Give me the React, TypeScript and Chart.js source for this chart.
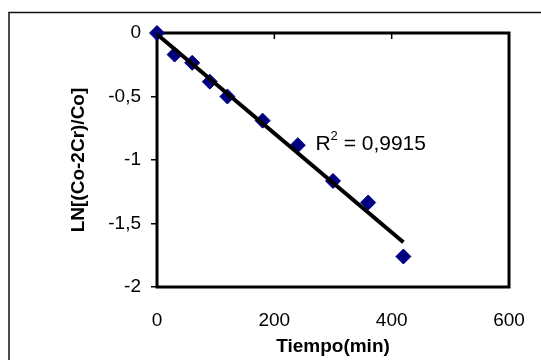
import React, { useEffect, useRef } from 'react';
import { Chart, registerables } from 'chart.js';

Chart.register(...registerables);

// ---- data ----
const tiempo = [0, 30, 60, 90, 120, 180, 240, 300, 360, 420];
const lnValues = [0, -0.17, -0.235, -0.383, -0.5, -0.69, -0.883, -1.165, -1.335, -1.76];
const trendX = [0, 420];
const trendY = [-0.01, -1.648];
const xTicks = [0, 200, 400, 600];
const xTickLabels = ['0', '200', '400', '600'];
const yTicks = [-2, -1.5, -1, -0.5, 0];
const yTickLabels = ['-2', '-1,5', '-1', '-0,5', '0'];
const xTitle = 'Tiempo(min)';
const yTitle = 'LN[(Co-2Cr)/Co]';
const r2Main = 'R';
const r2Sup = '2';
const r2Rest = ' = 0,9915';
const r2At = [270, -0.92];

const FONT = 'Arial, "Liberation Sans", sans-serif';

const framePlugin = {
  id: 'framePlugin',
  beforeDraw(chart: any) {
    const { ctx, width, height } = chart;
    ctx.save();
    ctx.fillStyle = '#ffffff';
    ctx.fillRect(0, 0, width, height);
    ctx.strokeStyle = '#111';
    ctx.lineWidth = 1.5;
    ctx.beginPath();
    ctx.moveTo(9, height);
    ctx.lineTo(9, 12.5);
    ctx.lineTo(width, 12.5);
    ctx.stroke();
    ctx.restore();
  },
  beforeDatasetsDraw(chart: any) {
    const { ctx, chartArea, scales } = chart;
    const { left, top, right, bottom } = chartArea;
    ctx.save();
    ctx.strokeStyle = '#000';
    ctx.lineWidth = 1.5;
    ctx.beginPath();
    xTicks.forEach((v) => {
      const px = scales.x.getPixelForValue(v);
      ctx.moveTo(px, top);
      ctx.lineTo(px, top + 6);
    });
    ctx.stroke();
    ctx.lineWidth = 3;
    ctx.strokeRect(left, top, right - left, bottom - top);
    ctx.restore();
  },
  afterDatasetsDraw(chart: any) {
    const { ctx, scales } = chart;
    const x = scales.x.getPixelForValue(r2At[0]);
    const y = scales.y.getPixelForValue(r2At[1]);
    ctx.save();
    ctx.fillStyle = '#000';
    ctx.textBaseline = 'alphabetic';
    ctx.textAlign = 'left';
    ctx.font = `21px ${FONT}`;
    ctx.fillText(r2Main, x, y);
    let cx = x + ctx.measureText(r2Main).width;
    ctx.font = `13px ${FONT}`;
    ctx.fillText(r2Sup, cx, y - 10);
    cx += ctx.measureText(r2Sup).width;
    ctx.font = `21px ${FONT}`;
    ctx.fillText(r2Rest, cx, y);
    ctx.restore();
  },
};

export default function App() {
  const ref = useRef<HTMLCanvasElement | null>(null);

  useEffect(() => {
    if (!ref.current) return;
    const chart = new Chart(ref.current, {
      type: 'scatter',
      data: {
        datasets: [
          {
            label: 'Tendencia',
            data: trendX.map((x, i) => ({ x, y: trendY[i] })),
            showLine: true,
            borderColor: '#000000',
            borderWidth: 4,
            pointRadius: 0,
            order: 0,
            clip: false,
          } as any,
          {
            label: 'Datos',
            data: tiempo.map((x, i) => ({ x, y: lnValues[i] })),
            pointStyle: 'rectRot',
            pointRadius: 7.5,
            pointBackgroundColor: '#000080',
            pointBorderColor: '#000080',
            pointBorderWidth: 1,
            showLine: false,
            order: 1,
            clip: false,
          } as any,
        ],
      },
      options: {
        animation: false,
        responsive: false,
        events: [],
        layout: { padding: { top: 33, right: 32, left: 0, bottom: 0 } },
        plugins: {
          legend: { display: false },
          tooltip: { enabled: false },
        },
        scales: {
          x: {
            type: 'linear',
            min: 0,
            max: 600,
            afterBuildTicks: (scale: any) => {
              scale.ticks = xTicks.map((v) => ({ value: v }));
            },
            afterFit: (scale: any) => {
              scale.height = 73;
              scale.paddingLeft = 0;
              scale.paddingRight = 0;
            },
            ticks: {
              color: '#000',
              padding: 22,
              maxRotation: 0,
              font: { family: FONT, size: 19 },
              callback: (v: any) => xTickLabels[xTicks.indexOf(Number(v))] ?? '',
            },
            grid: { display: false, drawTicks: false },
            border: { display: false },
            title: {
              display: true,
              text: xTitle,
              color: '#000',
              font: { family: FONT, size: 19, weight: 'bold' },
              padding: { top: 0, bottom: 2 },
            },
          },
          y: {
            type: 'linear',
            min: -2,
            max: 0,
            afterBuildTicks: (scale: any) => {
              scale.ticks = yTicks.map((v) => ({ value: v }));
            },
            afterFit: (scale: any) => {
              scale.width = 157;
              scale.paddingTop = 0;
              scale.paddingBottom = 0;
            },
            ticks: {
              color: '#000',
              padding: 10,
              font: { family: FONT, size: 19 },
              callback: (v: any) => yTickLabels[yTicks.indexOf(Number(v))] ?? '',
            },
            grid: {
              display: true,
              drawOnChartArea: false,
              drawTicks: true,
              tickLength: 6,
              color: '#000',
              lineWidth: 1.5,
            },
            border: { display: false },
            title: {
              display: true,
              text: yTitle,
              color: '#000',
              font: { family: FONT, size: 19, weight: 'bold' },
              padding: { top: 67, bottom: 0 },
            },
          },
        },
      },
      plugins: [framePlugin],
    });
    return () => chart.destroy();
  }, []);

  return (
    <div style={{ position: 'fixed', left: 0, top: 0, width: 541, height: 360, overflow: 'hidden', background: '#fff' }}>
      <canvas ref={ref} width={541} height={360} style={{ display: 'block', width: 541, height: 360 }} />
    </div>
  );
}
